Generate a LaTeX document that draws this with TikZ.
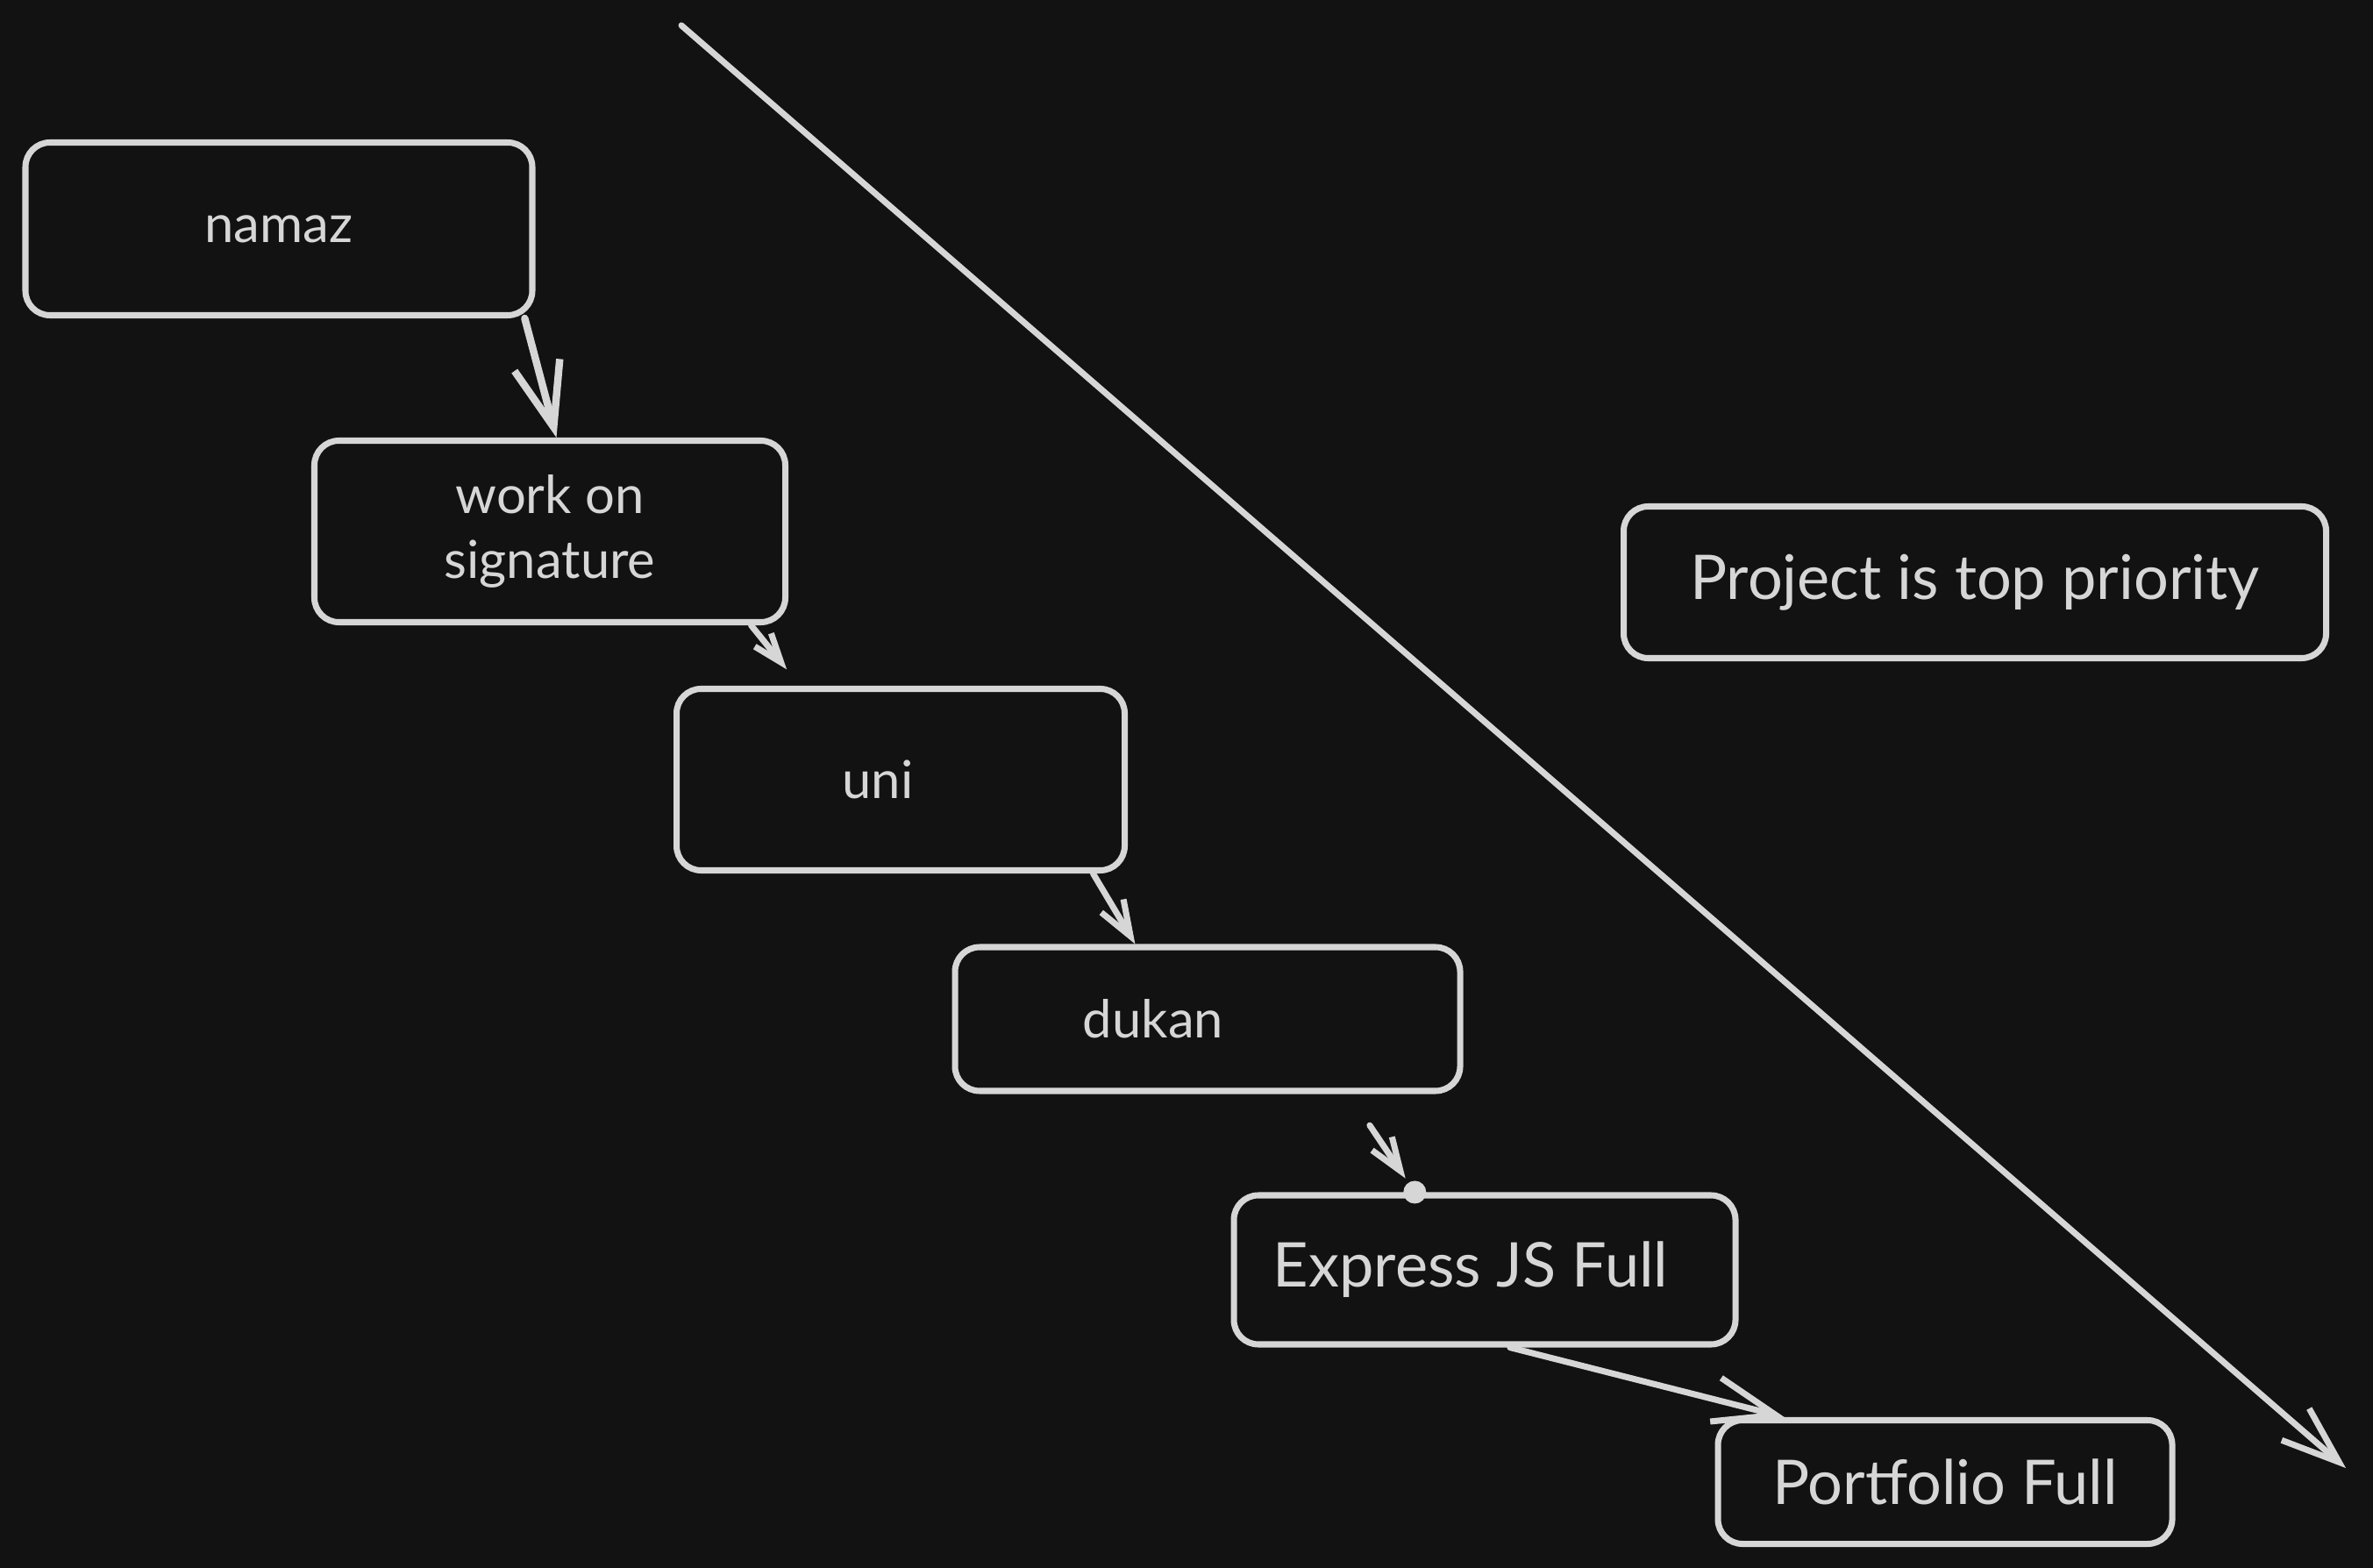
\documentclass[tikz,border=0pt]{standalone}
\usepackage{fontspec}
\setmainfont{Lato}
\usetikzlibrary{arrows.meta}
\definecolor{skbg}{RGB}{18,18,18}
\definecolor{skline}{RGB}{214,214,214}
\tikzset{
  box/.style={draw=skline, line width=2pt, rounded corners=0.28cm, text=skline, align=center, font=\fontsize{17}{21}\selectfont},
  bigbox/.style={box, font=\fontsize{20}{24}\selectfont},
  arrow/.style={-{Straight Barb[angle=40:#1]}, line width=2pt, draw=skline, line cap=round},
  arrow/.default=0.5cm
}

\begin{document}
\begin{tikzpicture}
    \fill[skbg] (0,0) rectangle (27.06,-17.88);
    \useasboundingbox (0,0) rectangle (27.06,-17.88);
    \node[box, minimum width=5.78cm, minimum height=1.97cm] (namaz) at (3.18,-2.61) {namaz};
    \node[box, minimum width=5.37cm, minimum height=2.07cm] (sig) at (6.27,-6.06) {work on\\signature};
    \node[box, minimum width=5.11cm, minimum height=2.07cm] (uni) at (10.27,-8.89) {uni\hspace*{0.52cm}};
    \node[box, minimum width=5.76cm, minimum height=1.64cm] (dukan) at (13.77,-11.62) {dukan\hspace*{1.24cm}};
    \node[bigbox, minimum width=5.72cm, minimum height=1.70cm] (xjs) at (16.93,-14.48) {Express JS Full\hspace*{0.32cm}};
    \node[bigbox, minimum width=5.18cm, minimum height=1.41cm] (port) at (22.18,-16.90) {Portfolio Full};
    \node[bigbox, minimum width=8.01cm, minimum height=1.73cm] (proj) at (22.52,-6.64) {Project is top priority};
    \coordinate (start) at (7.77,-0.29);
    \coordinate (stop) at (26.75,-16.74);
    \draw[arrow=0.7cm] (start) -- (stop);
    \draw[arrow=0.78cm, line width=2.4pt] (namaz.-20) -- (sig.86);
    \draw[arrow=0.35cm, shorten >=0.24cm] (sig.-25) -- (uni.137);
    \draw[arrow=0.43cm] (uni.-26) -- (dukan.134);
    \draw[arrow=0.4cm, shorten <=0.43cm, shorten >=0.19cm] (dukan.-28) -- (xjs.132);
    \fill[skline] (xjs.132) circle (0.13);
    \draw[arrow=0.75cm] (xjs.-72) -- (port.158);
  \end{tikzpicture}
\end{document}
